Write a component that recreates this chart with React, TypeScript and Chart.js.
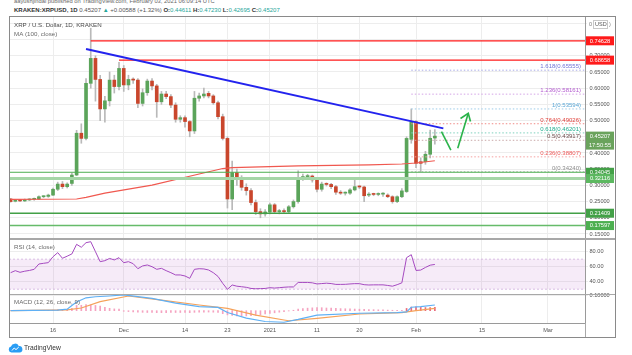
import React, { useEffect, useRef } from "react";
import { Chart, registerables } from "chart.js";

Chart.register(...registerables);

// ---------------- DATA ----------------
const tickIdx = [9, 24, 37, 46, 55, 65, 74, 86, 100, 114];
const tickLabels = ["16", "Dec", "14", "23", "2021", "11", "20", "Feb", "15", "Mar"];

const opens = [
  0.258, 0.251, 0.253, 0.252, 0.255, 0.257, 0.258, 0.265, 0.266, 0.270,
  0.288, 0.304, 0.296, 0.306, 0.332, 0.461, 0.445, 0.615, 0.692, 0.627,
  0.536, 0.561, 0.625, 0.605, 0.661, 0.610, 0.627, 0.625, 0.553, 0.586,
  0.622, 0.607, 0.558, 0.582, 0.574, 0.548, 0.504, 0.509, 0.497, 0.468,
  0.569, 0.576, 0.584, 0.576, 0.555, 0.512, 0.445, 0.258, 0.339, 0.319,
  0.294, 0.284, 0.247, 0.219, 0.212, 0.218, 0.240, 0.219, 0.221, 0.219,
  0.234, 0.250, 0.324, 0.327, 0.329, 0.317, 0.288, 0.304, 0.303, 0.296,
  0.279, 0.276, 0.276, 0.286, 0.296, 0.295, 0.270, 0.273, 0.272, 0.273,
  0.270, 0.265, 0.250, 0.265, 0.281, 0.442, 0.4966, 0.373, 0.373, 0.396, 0.44611,
];
const closes = [
  0.250, 0.253, 0.252, 0.255, 0.257, 0.258, 0.265, 0.266, 0.270, 0.288,
  0.304, 0.296, 0.304, 0.332, 0.461, 0.445, 0.615, 0.692, 0.627, 0.536,
  0.561, 0.625, 0.605, 0.661, 0.610, 0.627, 0.625, 0.553, 0.586, 0.622,
  0.607, 0.558, 0.582, 0.574, 0.548, 0.504, 0.509, 0.497, 0.468, 0.569,
  0.576, 0.582, 0.576, 0.555, 0.512, 0.445, 0.258, 0.339, 0.319, 0.294,
  0.284, 0.247, 0.219, 0.212, 0.218, 0.240, 0.219, 0.221, 0.219, 0.234,
  0.250, 0.324, 0.327, 0.329, 0.317, 0.288, 0.304, 0.303, 0.296, 0.279,
  0.276, 0.276, 0.286, 0.296, 0.295, 0.268, 0.273, 0.272, 0.273, 0.274,
  0.265, 0.250, 0.265, 0.283, 0.445, 0.4966, 0.368, 0.368, 0.396, 0.4454, 0.45207,
];
const highs = [
  0.260, 0.256, 0.256, 0.258, 0.259, 0.261, 0.268, 0.268, 0.273, 0.292,
  0.310, 0.312, 0.308, 0.338, 0.470, 0.490, 0.630, 0.785, 0.700, 0.640,
  0.575, 0.650, 0.640, 0.680, 0.670, 0.640, 0.632, 0.630, 0.598, 0.628,
  0.630, 0.612, 0.590, 0.590, 0.580, 0.555, 0.515, 0.515, 0.500, 0.590,
  0.585, 0.600, 0.590, 0.580, 0.560, 0.520, 0.450, 0.375, 0.350, 0.330,
  0.305, 0.290, 0.255, 0.228, 0.225, 0.245, 0.244, 0.226, 0.228, 0.238,
  0.255, 0.345, 0.335, 0.334, 0.332, 0.320, 0.310, 0.308, 0.306, 0.300,
  0.284, 0.280, 0.290, 0.320, 0.300, 0.298, 0.278, 0.276, 0.277, 0.278,
  0.274, 0.268, 0.268, 0.290, 0.450, 0.536, 0.500, 0.385, 0.405, 0.471, 0.4723,
];
const lows = [
  0.248, 0.249, 0.250, 0.250, 0.253, 0.254, 0.256, 0.262, 0.263, 0.268,
  0.284, 0.290, 0.292, 0.300, 0.330, 0.430, 0.440, 0.600, 0.560, 0.500,
  0.495, 0.545, 0.585, 0.595, 0.590, 0.595, 0.615, 0.540, 0.545, 0.578,
  0.595, 0.510, 0.550, 0.568, 0.540, 0.495, 0.495, 0.480, 0.450, 0.460,
  0.560, 0.570, 0.570, 0.550, 0.505, 0.440, 0.230, 0.225, 0.300, 0.285,
  0.270, 0.240, 0.210, 0.200, 0.205, 0.212, 0.215, 0.212, 0.214, 0.215,
  0.230, 0.245, 0.315, 0.318, 0.310, 0.280, 0.282, 0.298, 0.290, 0.272,
  0.272, 0.270, 0.272, 0.283, 0.290, 0.250, 0.265, 0.268, 0.268, 0.266,
  0.262, 0.245, 0.247, 0.262, 0.278, 0.430, 0.355, 0.3424, 0.365, 0.385, 0.42695,
];

const maIdx = [0, 14, 16, 20, 30, 40, 45, 47, 61, 76, 83, 86, 90];
const maVal = [0.257, 0.258, 0.263, 0.276, 0.301, 0.335, 0.352, 0.355, 0.360, 0.363, 0.366, 0.369, 0.376];

const rsiVal = [
  52, 54.7, 52.5, 54, 55, 56.5, 63.6, 64.5, 65.4, 73.3,
  78.7, 71.2, 74, 77, 89.8, 85.9, 92, 93.3, 80, 66.7,
  68, 71, 69, 72, 65.3, 66.7, 64, 57.3, 61, 62.3,
  60, 56.5, 57.8, 54.7, 52, 49, 49, 47.6, 44.5, 56.5,
  57.3, 57, 55.6, 52, 47, 37.8, 29.8, 35.6, 34, 33.3,
  32.5, 31, 30.6, 30.8, 31, 32, 31.5, 32, 32.6, 33,
  33, 39, 39, 39, 38.5, 37, 37.5, 38, 37.5, 36.4,
  36.4, 36.5, 37, 37.4, 37.4, 36, 35.6, 35.8, 35.8, 35.8,
  35, 34, 36, 38.5, 72, 76, 55, 55.5, 59, 62, 63,
];
const rsiBandTop = 70;
const rsiBandBottom = 30;

const macdIdx = [0, 10, 12, 13, 14, 16, 18, 21, 24, 30, 35, 40, 44, 46, 50, 54, 58, 61, 65, 74, 82, 84, 85, 87, 90];
const macdVal = [0, 0.004, 0.01, 0.035, 0.058, 0.086, 0.093, 0.098, 0.105, 0.082, 0.05, 0.027, 0.022, -0.012, -0.05, -0.072, -0.077, -0.058, -0.029, -0.017, -0.013, -0.008, 0.023, 0.027, 0.038];
const signalIdx = [0, 12, 15, 19, 25, 32, 40, 46, 52, 58, 59, 65, 74, 83, 86, 90];
const signalVal = [0, 0.005, 0.018, 0.06, 0.098, 0.071, 0.038, 0.016, -0.029, -0.062, -0.067, -0.051, -0.022, -0.013, 0, 0.016];
const histVal = [
  0, 0.001, 0, 0.001, 0.001, 0.001, 0.002, 0.002, 0.002,
  0.004, 0.006, 0.006, 0.008, 0.015,
  0.035, 0.036, 0.04, 0.038, 0.035, 0.03,
  0.022, 0.016, 0.012, 0.01,
  -0.004, -0.006, -0.008, -0.01, -0.011, -0.012, -0.012, -0.013, -0.013, -0.013, -0.012,
  -0.012, -0.012, -0.012, -0.013, -0.011, -0.01, -0.009, -0.009, -0.01, -0.012,
  -0.02, -0.028, -0.032, -0.034, -0.035, -0.035, -0.033, -0.03, -0.027, -0.022, -0.018, -0.014, -0.01,
  -0.006, -0.002, 0.003, 0.01, 0.014, 0.017, 0.019, 0.02, 0.02,
  0.018, 0.017, 0.015, 0.014, 0.013, 0.012, 0.011, 0.01, 0.009, 0.008, 0.007, 0.006, 0.005, 0.004, 0.003, 0.002, 0.003,
  0.015, 0.024, 0.025, 0.022, 0.021, 0.021, 0.022,
];

const trendIdx = [16, 91.8];
const trendVal = [0.721, 0.476];

const resistanceVal = [0.74628, 0.68658];
const resistanceStart = [17, 23];
const supportVal = [0.34045, 0.32116, 0.21409, 0.17597];

const fibNames = ["1.618", "1.236", "1", "0.764", "0.618", "0.5", "0.236", "0"];
const fibVal = [0.65555, 0.58161, 0.53594, 0.49026, 0.46201, 0.43917, 0.38807, 0.3424];
const fibStart = 85;

const arrowDownIdx = [91.4, 93.4];
const arrowDownVal = [0.4657, 0.409];
const arrowUpIdx = [94.85, 97.09];
const arrowUpVal = [0.4145, 0.5225];
const arrowHeadIdx = [95.44, 97.09, 97.56];
const arrowHeadVal = [0.5065, 0.5225, 0.4972];

const lastPrice = 0.45207;
const countdown = "17:50:55";

const priceTicks = [0.15, 0.2, 0.25, 0.3, 0.35, 0.4, 0.45, 0.5, 0.55, 0.6, 0.65, 0.7, 0.75, 0.8];
const rsiTicks = [40, 60, 80];
const macdTicks = [0.1];

// ---------------- STYLE ----------------
const FONT = '"Liberation Sans", Arial, sans-serif';
const GREEN = "#5ba45a";
const RED = "#c9462c";
const WICK = "#b9b9b9";
const GRID = "#ededed";
const AXIS = "#9a9a9a";
const TEAL = "#26a69a";
const fibColors = ["#6f73d6", "#b45bd0", "#5aa7d6", "#e0403a", "#22ad8e", "#6b4a4a", "#ee5a5a", "#8c8c8c"];
const fibLineColors = ["#a9abe6", "#d4a3e6", "#9ccbe8", "#f08a86", "#7fd1bd", "#c9a8a8", "#f5a0a0", "#bdbdbd"];
const supportColors = ["#4caf50", "#a5d6a7", "#43a047", "#66bb6a"];
const supportWidths = [1, 3, 1.5, 1.5];
const supportBoxColors = ["#43a047", "#5cb860", "#43a047", "#4caf50"];

const X_MIN = -0.34;
const X_MAX = 121.85;

const FRAME_L = 9, FRAME_T = 16, FRAME_R = 616, FRAME_B = 338;

const overlay = {
  id: "overlay",
  afterDraw(chart: any) {
    const ctx = chart.ctx as CanvasRenderingContext2D;
    const ca = chart.chartArea;
    const ys = chart.scales.y;
    const rs = chart.scales.rsi;
    ctx.save();
    // separators
    ctx.strokeStyle = "#a8a8a8";
    ctx.lineWidth = 1;
    const hl = (y: number) => {
      ctx.beginPath();
      ctx.moveTo(FRAME_L, Math.round(y) + 0.5);
      ctx.lineTo(FRAME_R, Math.round(y) + 0.5);
      ctx.stroke();
    };
    hl(ys.bottom - 1);
    hl(ys.bottom);
    hl(rs.bottom);
    ctx.beginPath();
    ctx.moveTo(Math.round(ca.right) + 0.5, ca.bottom);
    ctx.lineTo(Math.round(ca.right) + 0.5, FRAME_B);
    ctx.stroke();
    ctx.strokeStyle = "#8a8a8a";
    ctx.strokeRect(FRAME_L + 0.5, FRAME_T + 0.5, FRAME_R - FRAME_L - 1, FRAME_B - FRAME_T - 1);

    // pane titles
    ctx.textBaseline = "middle";
    ctx.textAlign = "left";
    ctx.font = `6.2px ${FONT}`;
    ctx.fillStyle = "#4a4a4a";
    ctx.fillText("XRP / U.S. Dollar, 1D, KRAKEN", 14, 25.5);
    ctx.fillStyle = "#6a6a6a";
    ctx.fillText("MA (100, close)", 14, 34);
    ctx.fillText("RSI (14, close)", 14, rs.top + 8.5);
    ctx.fillText("MACD (12, 26, close, 9)", 14, chart.scales.macd.top + 8.5);

    // fib labels
    ctx.font = `6px ${FONT}`;
    ctx.textAlign = "right";
    ctx.textBaseline = "bottom";
    fibVal.forEach((v, k) => {
      const py = ys.getPixelForValue(v);
      ctx.fillStyle = fibColors[k];
      ctx.fillText(`${fibNames[k]}(${v.toFixed(5)})`, ca.right - 4, py - 0.5);
    });

    // axis price boxes
    const box = (v: number, color: string, text: string, text2?: string) => {
      const py = ys.getPixelForValue(v);
      const h = text2 ? 18 : 9;
      ctx.fillStyle = color;
      ctx.fillRect(ca.right + 1, py - 4.5, 28, h);
      ctx.fillStyle = "#ffffff";
      ctx.font = `5.7px ${FONT}`;
      ctx.textAlign = "center";
      ctx.textBaseline = "middle";
      ctx.fillText(text, ca.right + 15, py + 0.3);
      if (text2) ctx.fillText(text2, ca.right + 15, py + 9.3);
    };
    resistanceVal.forEach((v) => box(v, "#ff1a1a", v.toFixed(5)));
    supportVal.forEach((v, k) => box(v, supportBoxColors[k], v.toFixed(5)));
    box(lastPrice, "#6aa35c", lastPrice.toFixed(5), countdown);

    // USD badge
    ctx.fillStyle = "#ffffff";
    ctx.fillRect(ca.right + 2, 19, 28, 10);
    ctx.font = `5.5px ${FONT}`;
    ctx.fillStyle = "#777";
    ctx.textAlign = "left";
    ctx.textBaseline = "middle";
    ctx.fillText("0", ca.right + 4, 24.5);
    ctx.strokeStyle = "#c8c8c8";
    ctx.strokeRect(ca.right + 8.5, 20.5, 14, 8);
    ctx.fillStyle = "#555";
    ctx.fillText("USD", ca.right + 10, 24.8);
    ctx.fillStyle = "#888";
    ctx.fillText(")", ca.right + 24, 24.5);
    ctx.restore();
  },
};

const pts = (xs: number[], vs: number[]) => xs.map((x, i) => ({ x, y: vs[i] }));
const hline = (v: number, x0: number, x1: number) => [
  { x: x0, y: v },
  { x: x1, y: v },
];

export default function App() {
  const ref = useRef<HTMLCanvasElement>(null);

  useEffect(() => {
    const canvas = ref.current;
    if (!canvas) return;
    const idx = opens.map((_, i) => i);
    const upC = idx.map((i) => (closes[i] >= opens[i] ? GREEN : RED));
    const lineBase = { type: "line", pointRadius: 0, fill: false, tension: 0, xAxisID: "x" };
    const datasets: any[] = [];

    // arrow
    datasets.push({ ...lineBase, data: pts(arrowDownIdx, arrowDownVal), borderColor: "#2bb34a", borderWidth: 1.6, yAxisID: "y" });
    datasets.push({ ...lineBase, data: pts(arrowUpIdx, arrowUpVal), borderColor: "#2bb34a", borderWidth: 1.6, yAxisID: "y" });
    datasets.push({ ...lineBase, data: pts(arrowHeadIdx, arrowHeadVal), borderColor: "#2bb34a", borderWidth: 1.6, yAxisID: "y" });
    // trend line
    datasets.push({ ...lineBase, data: pts(trendIdx, trendVal), borderColor: "#2323ee", borderWidth: 2, yAxisID: "y" });
    // resistances
    resistanceVal.forEach((v, k) =>
      datasets.push({ ...lineBase, data: hline(v, resistanceStart[k], X_MAX + 1), borderColor: "#ff1a1a", borderWidth: 1.3, yAxisID: "y" })
    );
    // supports
    supportVal.forEach((v, k) =>
      datasets.push({ ...lineBase, data: hline(v, X_MIN - 1, X_MAX + 1), borderColor: supportColors[k], borderWidth: supportWidths[k], yAxisID: "y" })
    );
    // fib lines
    fibVal.forEach((v, k) =>
      datasets.push({ ...lineBase, data: hline(v, fibStart, X_MAX), borderColor: fibLineColors[k], borderWidth: 1, borderDash: [1.5, 2], yAxisID: "y" })
    );
    // MA
    datasets.push({ ...lineBase, data: pts(maIdx, maVal), borderColor: "#f0584f", borderWidth: 1.2, yAxisID: "y" });
    // candle bodies
    datasets.push({
      type: "bar",
      data: idx.map((i) => ({ x: i, y: [opens[i], closes[i]] })),
      backgroundColor: upC,
      borderWidth: 0,
      barThickness: 3,
      minBarLength: 1,
      grouped: false,
      xAxisID: "x",
      yAxisID: "y",
    });
    // wicks
    datasets.push({
      type: "bar",
      data: idx.map((i) => ({ x: i, y: [lows[i], highs[i]] })),
      backgroundColor: WICK,
      borderWidth: 0,
      barThickness: 1,
      grouped: false,
      xAxisID: "x",
      yAxisID: "y",
    });
    // RSI
    datasets.push({ ...lineBase, data: pts(idx, rsiVal), borderColor: "#a54ac0", borderWidth: 1, yAxisID: "rsi" });
    datasets.push({ ...lineBase, data: hline(rsiBandTop, X_MIN, X_MAX), borderColor: "#d2b0de", borderWidth: 0.8, borderDash: [2, 2], yAxisID: "rsi" });
    datasets.push({
      ...lineBase,
      data: hline(rsiBandBottom, X_MIN, X_MAX),
      borderColor: "#d2b0de",
      borderWidth: 0.8,
      borderDash: [2, 2],
      fill: "-1",
      backgroundColor: "rgba(171,71,188,0.11)",
      yAxisID: "rsi",
    });
    // MACD
    datasets.push({ ...lineBase, data: pts(macdIdx, macdVal), borderColor: "#5fb0f5", borderWidth: 1.2, yAxisID: "macd" });
    datasets.push({ ...lineBase, data: pts(signalIdx, signalVal), borderColor: "#f5a25a", borderWidth: 1.2, yAxisID: "macd" });
    datasets.push({
      type: "bar",
      data: idx.map((i) => ({ x: i, y: histVal[i] })),
      backgroundColor: idx.map((i) => (i >= 84 ? "#ea6a7a" : "#f5a3c0")),
      borderWidth: 0,
      barThickness: 1,
      grouped: false,
      xAxisID: "x",
      yAxisID: "macd",
    });

    const tickFont = { size: 5.6, family: FONT };
    const yBase = (weight: number) => ({
      type: "linear",
      position: "right",
      stack: "panes",
      stackWeight: weight,
      grid: { color: GRID, tickLength: 3, drawTicks: true },
      border: { color: AXIS },
      afterFit: (s: any) => {
        s.width = 31;
      },
    });

    const chart = new Chart(canvas, {
      type: "line",
      data: { datasets },
      options: {
        responsive: false,
        animation: false,
        events: [],
        layout: { padding: { left: 9, top: 16, right: 16, bottom: 17 } },
        plugins: { legend: { display: false }, tooltip: { enabled: false } },
        scales: {
          x: {
            type: "linear",
            min: X_MIN,
            max: X_MAX,
            offset: false,
            position: "bottom",
            grid: { color: GRID, offset: false, drawTicks: false, tickLength: 0 },
            border: { color: AXIS },
            afterBuildTicks: (s: any) => {
              s.ticks = tickIdx.map((v) => ({ value: v }));
            },
            afterFit: (s: any) => {
              s.height = 15;
            },
            ticks: {
              autoSkip: false,
              maxRotation: 0,
              padding: 4.5,
              color: "#555",
              font: tickFont,
              callback: (v: any) => {
                const k = tickIdx.indexOf(Number(v));
                return k >= 0 ? tickLabels[k] : "";
              },
            },
          },
          y: {
            ...yBase(223),
            min: 0.1345,
            max: 0.8228,
            afterBuildTicks: (s: any) => {
              s.ticks = priceTicks.map((v) => ({ value: v }));
            },
            ticks: { autoSkip: false, padding: 1.5, color: "#555", font: tickFont, callback: (v: any) => Number(v).toFixed(5) },
          },
          rsi: {
            ...yBase(55),
            min: 23.6,
            max: 96.9,
            afterBuildTicks: (s: any) => {
              s.ticks = rsiTicks.map((v) => ({ value: v }));
            },
            ticks: { autoSkip: false, padding: 1.5, color: "#555", font: tickFont, callback: (v: any) => Number(v).toFixed(2) },
          },
          macd: {
            ...yBase(29),
            min: -0.082,
            max: 0.1113,
            afterBuildTicks: (s: any) => {
              s.ticks = macdTicks.map((v) => ({ value: v }));
            },
            ticks: { autoSkip: false, padding: 1.5, color: "#555", font: tickFont, callback: (v: any) => Number(v).toFixed(5) },
          },
        },
      } as any,
      plugins: [overlay as any],
    } as any);

    return () => {
      chart.destroy();
    };
  }, []);

  const teal = { color: TEAL };
  return (
    <div
      style={{
        position: "fixed",
        left: 0,
        top: 0,
        width: 632,
        height: 355,
        background: "#ffffff",
        overflow: "hidden",
        fontFamily: FONT,
      }}
    >
      <div style={{ position: "absolute", left: 14, top: -2.5, fontSize: 5.8, lineHeight: "7px", color: "#666", whiteSpace: "nowrap" }}>
        aayushjindal published on TradingView.com, February 03, 2021 06:09:14 UTC
      </div>
      <div style={{ position: "absolute", left: 14, top: 7, fontSize: 6, lineHeight: "7px", color: "#555", whiteSpace: "nowrap" }}>
        <b style={{ color: "#333" }}>KRAKEN:XRPUSD, 1D</b> 0.45207 <span style={teal}>▲</span> +0.00588 (+1.32%){" "}
        <b style={{ color: "#333" }}>O:</b><span style={teal}>0.44611</span> <b style={{ color: "#333" }}>H:</b><span style={teal}>0.47230</span>{" "}
        <b style={{ color: "#333" }}>L:</b><span style={teal}>0.42695</span> <b style={{ color: "#333" }}>C:</b><span style={teal}>0.45207</span>
      </div>
      <canvas ref={ref} width={632} height={355} style={{ position: "absolute", left: 0, top: 0, display: "block" }} />
      <div style={{ position: "absolute", left: 8, top: 343, display: "flex", alignItems: "center", gap: 1 }}>
        <svg width="15" height="10" viewBox="0 0 15 10">
          <path d="M3.5 9.5 A3 3 0 0 1 3 3.6 A4.2 4.2 0 0 1 10.8 3 A3.2 3.2 0 0 1 11.5 9.5 Z" fill="#2a9df4" />
          <path d="M4 7.5 L6.2 5 L8 6.6 L10.8 4" stroke="#ffffff" strokeWidth="1" fill="none" />
        </svg>
        <span style={{ fontSize: 6.7, color: "#333", lineHeight: "10px" }}>TradingView</span>
      </div>
    </div>
  );
}
